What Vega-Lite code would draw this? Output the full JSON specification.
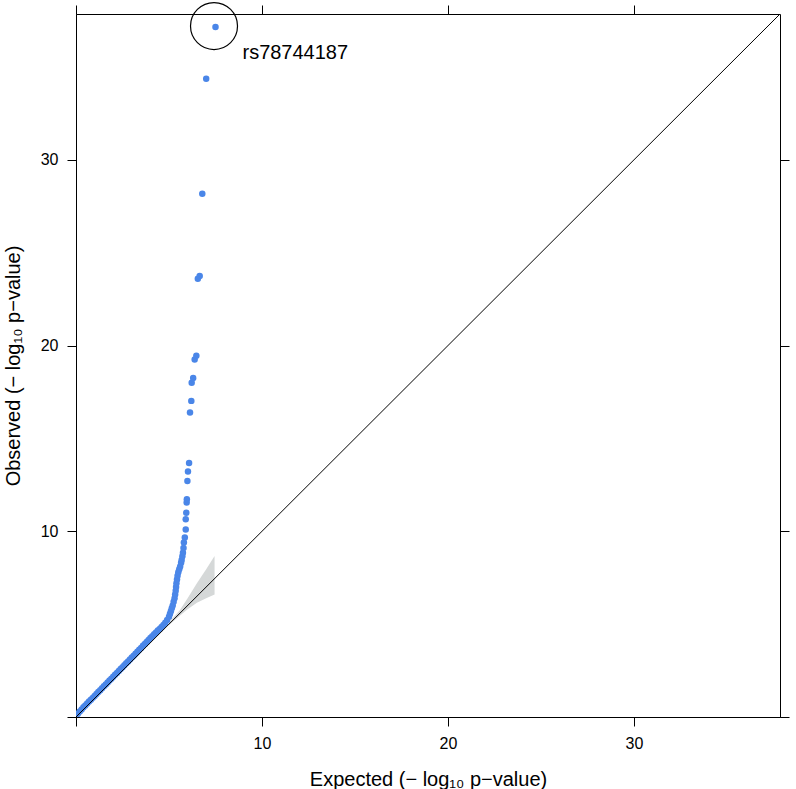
{
  "$schema": "https://vega.github.io/schema/vega-lite/v6.json",
  "width": 704,
  "height": 703,
  "autosize": {"type": "none"},
  "padding": {"left": 76, "top": 14, "right": 16, "bottom": 72},
  "background": "white",
  "config": {
    "view": {"stroke": "black", "strokeWidth": 1},
    "font": "Liberation Sans",
    "axis": {
      "domainColor": "black", "domainWidth": 1,
      "tickColor": "black", "tickWidth": 1, "tickSize": 9,
      "labelColor": "black", "labelFontSize": 16, "labelPadding": 9, "labelFont": "Liberation Sans",
      "titleColor": "black", "titleFontSize": 20, "titleFontWeight": "normal", "titleFont": "Liberation Sans",
      "grid": false
    }
  },
  "datasets": {
    "band": [
      {"e": 5.0, "lo": 4.95, "hi": 5.1},
      {"e": 5.58, "lo": 5.45, "hi": 5.75},
      {"e": 6.0, "lo": 5.8, "hi": 6.4},
      {"e": 6.5, "lo": 6.15, "hi": 7.2},
      {"e": 7.0, "lo": 6.4, "hi": 7.95},
      {"e": 7.45, "lo": 6.6, "hi": 8.67}
    ],
    "diag": [
      {"e": 0, "o": 0, "e2": 37.85, "o2": 37.85}
    ],
    "qq": [
      {"e": 0.0, "o": 0.05}, {"e": 0.1, "o": 0.18}, {"e": 0.2, "o": 0.3}, {"e": 0.3, "o": 0.41},
      {"e": 0.4, "o": 0.52}, {"e": 0.5, "o": 0.62}, {"e": 0.6, "o": 0.73}, {"e": 0.7, "o": 0.83},
      {"e": 0.8, "o": 0.93}, {"e": 0.9, "o": 1.03}, {"e": 1.0, "o": 1.13}, {"e": 1.1, "o": 1.24},
      {"e": 1.2, "o": 1.34}, {"e": 1.3, "o": 1.44}, {"e": 1.4, "o": 1.55}, {"e": 1.5, "o": 1.65},
      {"e": 1.6, "o": 1.75}, {"e": 1.7, "o": 1.86}, {"e": 1.8, "o": 1.96}, {"e": 1.9, "o": 2.06},
      {"e": 2.0, "o": 2.17}, {"e": 2.1, "o": 2.27}, {"e": 2.2, "o": 2.37}, {"e": 2.3, "o": 2.48},
      {"e": 2.4, "o": 2.58}, {"e": 2.5, "o": 2.68}, {"e": 2.6, "o": 2.79}, {"e": 2.7, "o": 2.89},
      {"e": 2.8, "o": 2.99}, {"e": 2.9, "o": 3.1}, {"e": 3.0, "o": 3.2}, {"e": 3.1, "o": 3.3},
      {"e": 3.2, "o": 3.41}, {"e": 3.3, "o": 3.51}, {"e": 3.4, "o": 3.62}, {"e": 3.5, "o": 3.72},
      {"e": 3.6, "o": 3.83}, {"e": 3.7, "o": 3.93}, {"e": 3.8, "o": 4.04}, {"e": 3.9, "o": 4.15},
      {"e": 4.0, "o": 4.25}, {"e": 4.1, "o": 4.35}, {"e": 4.2, "o": 4.46}, {"e": 4.3, "o": 4.55},
      {"e": 4.4, "o": 4.66}, {"e": 4.5, "o": 4.74}, {"e": 4.6, "o": 4.84}, {"e": 4.7, "o": 4.95},
      {"e": 4.8, "o": 5.07}, {"e": 4.9, "o": 5.22}, {"e": 5.0, "o": 5.4}, {"e": 5.05, "o": 5.55},
      {"e": 5.1, "o": 5.7}, {"e": 5.15, "o": 5.85}, {"e": 5.2, "o": 6.0}, {"e": 5.25, "o": 6.2},
      {"e": 5.3, "o": 6.4}, {"e": 5.33, "o": 6.6}, {"e": 5.36, "o": 6.8}, {"e": 5.38, "o": 7.0},
      {"e": 5.4, "o": 7.2}, {"e": 5.43, "o": 7.4}, {"e": 5.46, "o": 7.6}, {"e": 5.5, "o": 7.8},
      {"e": 5.55, "o": 7.95}, {"e": 5.6, "o": 8.1}, {"e": 5.65, "o": 8.3}, {"e": 5.68, "o": 8.45},
      {"e": 5.72, "o": 8.65}, {"e": 5.75, "o": 8.85}, {"e": 5.78, "o": 9.1}, {"e": 5.8, "o": 9.4},
      {"e": 5.85, "o": 9.66}, {"e": 5.9, "o": 10.1}, {"e": 5.9, "o": 10.65}, {"e": 5.93, "o": 11.0},
      {"e": 5.95, "o": 11.55}, {"e": 5.96, "o": 11.72}, {"e": 5.99, "o": 12.71}, {"e": 6.02, "o": 13.22},
      {"e": 6.08, "o": 13.67}, {"e": 6.13, "o": 16.4}, {"e": 6.2, "o": 17.02}, {"e": 6.22, "o": 18.0},
      {"e": 6.3, "o": 18.25}, {"e": 6.38, "o": 19.25}, {"e": 6.47, "o": 19.45}, {"e": 6.55, "o": 23.6},
      {"e": 6.65, "o": 23.75}, {"e": 6.79, "o": 28.17}, {"e": 7.0, "o": 34.37}, {"e": 7.5, "o": 37.15}
    ],
    "hit": [
      {"e": 7.42, "o": 37.2, "le": 8.95, "lo": 35.75, "snp": "rs78744187"}
    ]
  },
  "layer": [
    {
      "data": {"name": "band"},
      "mark": {"type": "area", "color": "#d5d8d8", "opacity": 1},
      "encoding": {
        "x": {
          "field": "e", "type": "quantitative",
          "scale": {"domain": [0, 37.85], "nice": false, "zero": false},
          "axis": {
            "orient": "bottom", "values": [0, 10, 20, 30],
            "labelExpr": "datum.value == 0 ? '' : datum.label",
            "title": "Expected (− log₁₀ p−value)",
            "titleY": 62, "titleBaseline": "middle"
          }
        },
        "y": {
          "field": "lo", "type": "quantitative",
          "scale": {"domain": [0, 37.85], "nice": false, "zero": false},
          "axis": {
            "orient": "left", "values": [0, 10, 20, 30],
            "labelExpr": "datum.value == 0 ? '' : datum.label",
            "title": "Observed (− log₁₀ p−value)",
            "titleX": -63, "titleY": 351.5, "titleBaseline": "middle", "titleAngle": -90, "titleAlign": "center"
          }
        },
        "y2": {"field": "hi"}
      }
    },
    {
      "data": {"name": "qq"},
      "mark": {"type": "circle", "color": "#4a86e8", "size": 42, "opacity": 1, "clip": true},
      "encoding": {
        "x": {"field": "e", "type": "quantitative", "axis": null},
        "y": {"field": "o", "type": "quantitative", "axis": null}
      }
    },
    {
      "data": {"name": "diag"},
      "mark": {"type": "rule", "color": "black", "strokeWidth": 1},
      "encoding": {
        "x": {"field": "e", "type": "quantitative", "axis": {"orient": "top", "values": [0, 10, 20, 30], "labels": false, "title": null, "domain": false}},
        "y": {"field": "o", "type": "quantitative", "axis": {"orient": "right", "values": [0, 10, 20, 30], "labels": false, "title": null, "domain": false}},
        "x2": {"field": "e2"},
        "y2": {"field": "o2"}
      }
    },
    {
      "data": {"name": "hit"},
      "mark": {"type": "point", "shape": "circle", "filled": false, "color": "black", "strokeWidth": 1.2, "size": 2209, "opacity": 1},
      "encoding": {
        "x": {"field": "e", "type": "quantitative", "axis": null},
        "y": {"field": "o", "type": "quantitative", "axis": null}
      }
    },
    {
      "data": {"name": "hit"},
      "mark": {"type": "text", "align": "left", "baseline": "middle", "fontSize": 20, "color": "black", "font": "Liberation Sans"},
      "encoding": {
        "x": {"field": "le", "type": "quantitative", "axis": null},
        "y": {"field": "lo", "type": "quantitative", "axis": null},
        "text": {"field": "snp"}
      }
    }
  ],
  "resolve": {"axis": {"x": "independent", "y": "independent"}}
}
